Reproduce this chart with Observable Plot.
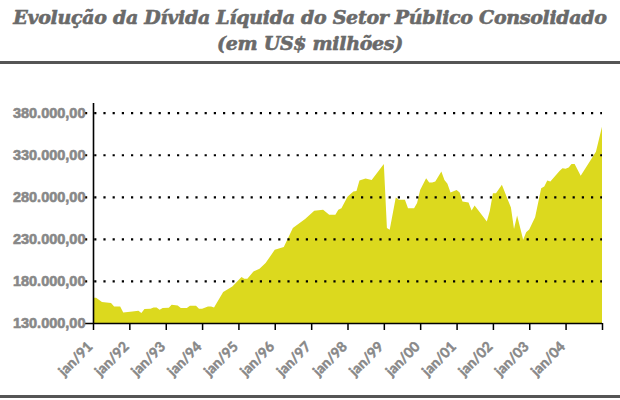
<!DOCTYPE html>
<html>
<head>
<meta charset="utf-8">
<script src="https://cdn.jsdelivr.net/npm/d3@7"></script>
<script src="https://cdn.jsdelivr.net/npm/@observablehq/plot@0.6"></script>
<style>
  body { margin: 0; background: #fff; width: 620px; overflow: hidden; }
  #title { height: 61px; text-align: center; font-family: "DejaVu Serif", serif; font-weight: bold; font-style: italic; font-size: 19px; line-height: 26px; color: #6a6a6a; padding-top: 4px; box-sizing: border-box; letter-spacing: -0.3px; -webkit-text-stroke: 0.6px #6a6a6a; }
  .rule { height: 3px; background: #555; width: 620px; }
  #chart svg { display: block; }
</style>
</head>
<body>
<div id="title">Evolução da Dívida Líquida do Setor Público Consolidado<br>(em US$ milhões)</div>
<div class="rule"></div>
<div id="chart"></div>
<div class="rule"></div>
<script>
const months = ["1991-01","1991-02","1991-04","1991-07","1991-08","1991-10","1991-11","1992-02","1992-04","1992-05","1992-06","1992-08","1992-09","1992-10","1992-11","1992-12","1993-02","1993-03","1993-05","1993-06","1993-08","1993-09","1993-11","1993-12","1994-01","1994-03","1994-04","1994-05","1994-08","1994-11","1995-02","1995-03","1995-04","1995-06","1995-08","1995-10","1996-01","1996-04","1996-07","1996-11","1997-02","1997-05","1997-07","1997-09","1997-10","1997-11","1998-01","1998-03","1998-04","1998-05","1998-07","1998-09","1999-01","1999-02","1999-03","1999-05","1999-06","1999-08","1999-09","1999-11","1999-12","2000-01","2000-03","2000-04","2000-05","2000-06","2000-08","2000-09","2000-10","2000-11","2001-01","2001-02","2001-03","2001-05","2001-06","2001-07","2001-11","2001-12","2002-01","2002-02","2002-04","2002-07","2002-08","2002-09","2002-11","2002-12","2003-01","2003-02","2003-03","2003-05","2003-06","2003-07","2003-08","2003-11","2003-12","2004-01","2004-02","2004-03","2004-04","2004-06","2004-11","2005-01"];
const debt = [160000,160000,155000,153700,149700,149700,142600,143800,144600,141900,146600,147000,148500,148500,145800,147800,148000,151700,150900,147800,147800,150500,150500,147000,147000,149700,149700,148500,166800,173400,184600,182600,182600,191300,194500,201200,217000,220200,242800,253500,263300,264500,258600,258600,264500,266500,280000,286200,287000,299300,301700,300100,319100,242800,240800,279200,276400,276400,266500,266500,272500,288200,302100,296900,297000,298100,310000,300100,295400,285000,288200,285000,274400,273200,263700,269600,250600,263300,284300,284300,294200,267200,241600,257700,228900,238000,241000,249000,255800,290300,292200,299300,298100,310800,314000,313200,314700,319100,319100,304900,333700,363400];
const yTicks = [130000,180000,230000,280000,330000,380000];
const gridTicks = [180000,230000,280000,330000,380000];
const xTickYears = [1991,1992,1993,1994,1995,1996,1997,1998,1999,2000,2001,2002,2003,2004,2005];
const xLabels = ["jan/91","jan/92","jan/93","jan/94","jan/95","jan/96","jan/97","jan/98","jan/99","jan/00","jan/01","jan/02","jan/03","jan/04",""];

const parse = d3.utcParse("%Y-%m");
const data = months.map((m, i) => ({date: parse(m), value: debt[i]}));
const xTickDates = xTickYears.map(y => new Date(Date.UTC(y, 0, 1)));
const br = d3.formatLocale({decimal: ",", thousands: ".", grouping: [3], currency: ["", ""]});
const fmt = br.format(",.2f");

const chart = Plot.plot({
  width: 620,
  height: 331,
  marginLeft: 93,
  marginRight: 18,
  marginTop: 39,
  marginBottom: 72,
  x: {type: "utc", domain: [xTickDates[0], xTickDates[xTickDates.length - 1]], axis: null},
  y: {domain: [130000, 391500], axis: null},
  marks: [
    Plot.areaY(data, {x: "date", y1: 130000, y2: "value", fill: "#dcd91e", curve: "linear"}),
    Plot.gridY(gridTicks, {stroke: "#000", strokeOpacity: 1, strokeWidth: 2.2, strokeDasharray: "2.2 7", insetLeft: -8}),
    Plot.ruleY([130000], {stroke: "#000", strokeWidth: 1.6, insetLeft: -8}),
    Plot.ruleX([xTickDates[0]], {y1: 130000, y2: 391500, stroke: "#000", strokeWidth: 1.6}),
    Plot.axisX({ticks: xTickDates, tickSize: 7, tickRotate: -45, stroke: "#000", strokeWidth: 1.5, label: null, text: null}),
    Plot.text(xTickDates, {x: d => d, frameAnchor: "bottom", text: (d, i) => xLabels[i], rotate: -45, textAnchor: "end", dy: 24, dx: 0, fill: "#888", stroke: "#888", strokeWidth: 0.5, fontSize: 14, fontWeight: "bold", fontFamily: "Lato, sans-serif"}),
    Plot.text(yTicks, {y: d => d, frameAnchor: "left", text: d => fmt(d), textAnchor: "end", dx: -8, fill: "#888", stroke: "#888", strokeWidth: 0.6, fontSize: 14.5, fontWeight: "bold", fontFamily: "Liberation Sans, Arial, sans-serif"})
  ]
});
document.getElementById("chart").appendChild(chart);
</script>
</body>
</html>
